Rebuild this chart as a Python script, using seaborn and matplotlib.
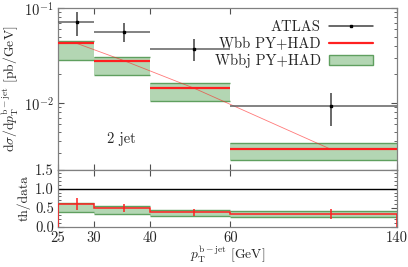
import numpy as np
import matplotlib
matplotlib.use("Agg")
import matplotlib.pyplot as plt
from matplotlib.lines import Line2D
from matplotlib.patches import Patch
import seaborn as sns

sns.set_style("ticks")
plt.rcParams['font.family'] = 'serif'
plt.rcParams['font.serif'] = ['cmr10', 'DejaVu Serif']
plt.rcParams['mathtext.fontset'] = 'cm'
plt.rcParams['axes.formatter.use_mathtext'] = True
plt.rcParams['axes.unicode_minus'] = False

# bins in pT (GeV)
bin_lo = np.array([25, 30, 40, 60])
bin_hi = np.array([30, 40, 60, 140])
bin_x = np.array([27.5, 35, 50, 100])

# ATLAS data
atlas = np.array([0.071, 0.056, 0.0374, 0.0094])
atlas_up = np.array([0.019, 0.013, 0.0096, 0.0035])
atlas_dn = np.array([0.020, 0.0125, 0.0098, 0.0037])

# Wbb PY+HAD
wbb = np.array([0.0425, 0.0279, 0.0143, 0.00327])

# Wbbj PY+HAD band
wbbj_hi = np.array([0.045, 0.0306, 0.0164, 0.00383])
wbbj_lo = np.array([0.0282, 0.0196, 0.0104, 0.00255])

xticks = [25, 30, 40, 60, 140]

red = '#ff2020'
gfill = '#b3d6b3'
gedge = '#5f9f5f'
gray = '#808080'
fs = 10.5
lfs = 9.8

fig = plt.figure(figsize=(4.08, 2.67), dpi=100)
ax = fig.add_axes([0.142, 0.365, 0.831, 0.605])
ax2 = fig.add_axes([0.142, 0.150, 0.831, 0.215], sharex=ax)

# upper panel
for i in range(len(bin_lo)):
    ax.fill_between([bin_lo[i], bin_hi[i]], wbbj_lo[i], wbbj_hi[i], color=gfill, lw=0)
    ax.hlines([wbbj_lo[i], wbbj_hi[i]], bin_lo[i], bin_hi[i], color=gedge, lw=1)
ax.hlines(wbb, bin_lo, bin_hi, color=red, lw=1.6, zorder=4)
sns.lineplot(x=bin_x, y=wbb, ax=ax, color=red, lw=0.6, alpha=0.6, zorder=3)
ax.hlines(atlas, bin_lo, bin_hi, color='#606060', lw=1.1, zorder=5)
ax.errorbar(bin_x, atlas, yerr=[atlas_dn, atlas_up], fmt='s', ms=1.8,
            color='black', ecolor='#404040', elinewidth=1.1, capsize=0, zorder=6)
ax.set_xscale('log')
ax.set_yscale('log')
ax.set_xlim(25, 140)
ax.set_ylim(0.002, 0.1)
ax.set_yticks([0.01, 0.1])
ax.set_yticklabels([r'$10^{-2}$', r'$10^{-1}$'])
ax.set_ylabel(r'$\mathrm{d}\sigma/\mathrm{d}p_\mathrm{T}^{\mathrm{b-jet}}$ [pb/GeV]', fontsize=lfs, labelpad=2)
ax.text(32, 0.0042, '2 jet', fontsize=fs, va='center', ha='left')
plt.setp(ax.get_xticklabels(), visible=False)

handles = [Line2D([0], [0], color='#404040', lw=1.1, marker='s', ms=1.8, mfc='black', mec='black'),
           Line2D([0], [0], color=red, lw=1.6),
           Patch(facecolor=gfill, edgecolor=gedge, lw=1)]
ax.legend(handles, ['ATLAS', 'Wbb PY+HAD', 'Wbbj PY+HAD'], loc='upper right',
          bbox_to_anchor=(0.96, 0.985), markerfirst=False, frameon=False,
          fontsize=fs, handlelength=3.0, handletextpad=0.6, labelspacing=0.2,
          borderpad=0.2)

# lower panel: ratios to data
r_wbb = wbb / atlas
r_err = r_wbb * (atlas_up + atlas_dn) / 2 / atlas
r_hi = wbbj_hi / atlas
r_lo = wbbj_lo / atlas
for i in range(len(bin_lo)):
    ax2.fill_between([bin_lo[i], bin_hi[i]], r_lo[i], r_hi[i], color=gfill, lw=0)
    ax2.hlines([r_lo[i], r_hi[i]], bin_lo[i], bin_hi[i], color=gedge, lw=1)
edges = np.append(bin_lo, bin_hi[-1])
ax2.stairs(r_wbb, edges, color=red, lw=1.1, zorder=4)
ax2.errorbar(bin_x, r_wbb, yerr=r_err, fmt='none', ecolor=red, elinewidth=1.1, zorder=5)
ax2.axhline(1.0, color='black', lw=1)
ax2.set_ylim(0, 1.5)
ax2.set_yticks([0, 0.5, 1.0, 1.5])
ax2.set_yticklabels(['0.0', '0.5', '1.0', '1.5'])
ax2.yaxis.set_minor_locator(matplotlib.ticker.MultipleLocator(0.1))
ax2.set_ylabel('th/data', fontsize=lfs, labelpad=3)
ax2.set_xticks(xticks)
ax2.set_xticklabels([str(t) for t in xticks])
ax2.xaxis.set_minor_locator(matplotlib.ticker.NullLocator())
ax2.set_xlabel(r'$p_\mathrm{T}^{\mathrm{b-jet}}$ [GeV]', fontsize=lfs, labelpad=-1)

for a in (ax, ax2):
    for s in a.spines.values():
        s.set_color(gray)
        s.set_linewidth(0.9)
    a.tick_params(which='both', direction='in', top=True, right=True, color='#505050',
                  labelsize=fs, pad=3)
    a.tick_params(which='major', length=4)
    a.tick_params(which='minor', length=2)
ax.xaxis.set_minor_locator(matplotlib.ticker.NullLocator())

fig.savefig('out.png', dpi=100)
